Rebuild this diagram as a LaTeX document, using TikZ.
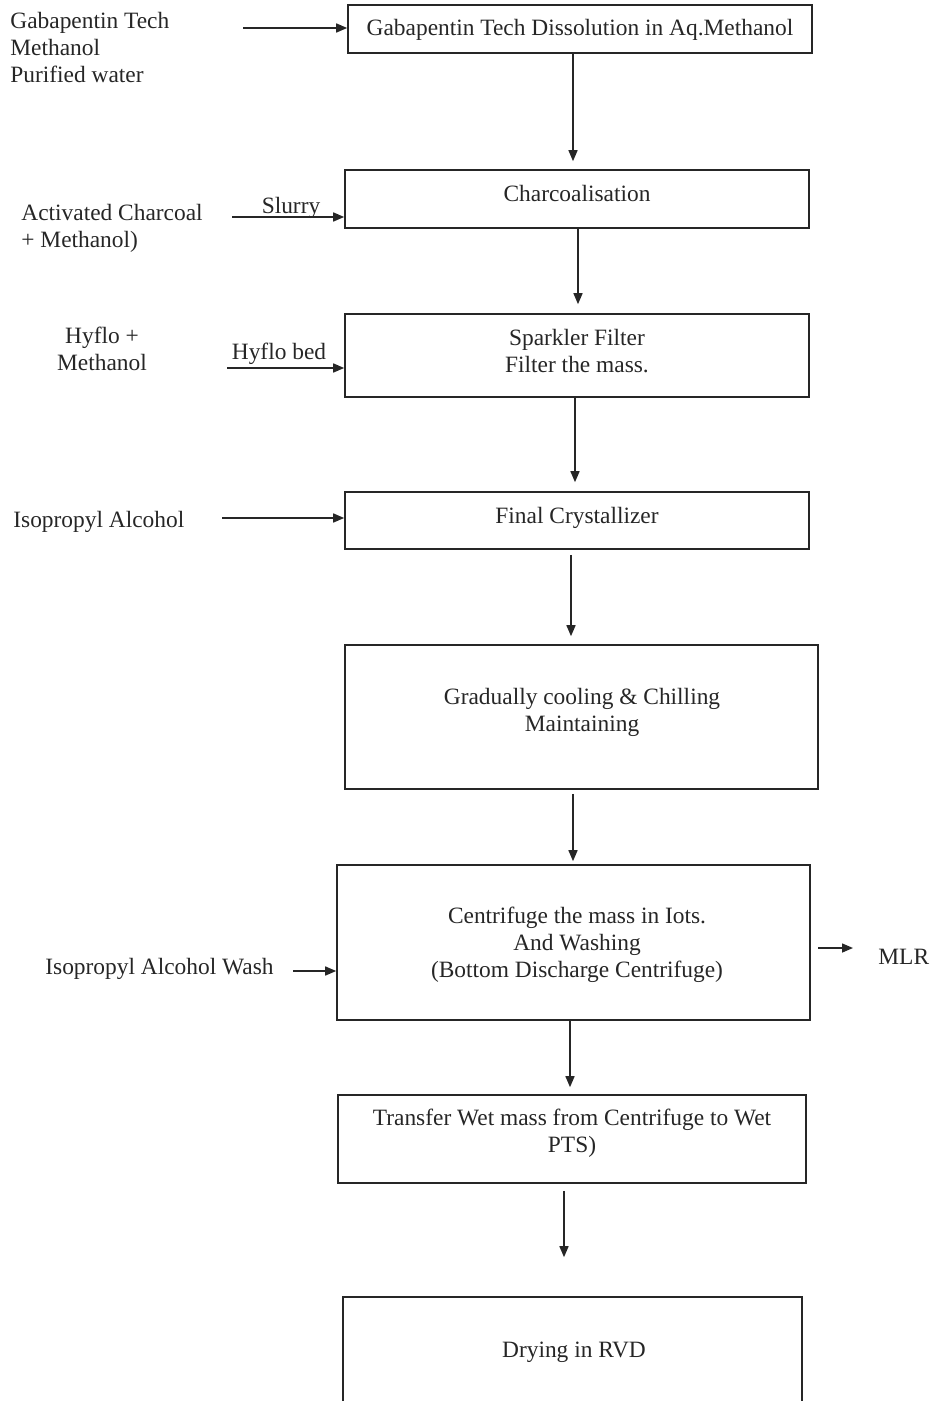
\documentclass[tikz,border=0pt]{standalone}
\usepackage{fontspec}
\setmainfont{Liberation Serif}
\usetikzlibrary{arrows.meta,fit,calc}
\begin{document}
\begin{tikzpicture}[x=0.5pt,y=-0.5pt,
  box/.style={draw=black!85, line width=0.8pt, inner sep=0pt},
  txt/.style={inner sep=0pt, text=black!85, font=\fontsize{11.7}{13.5}\selectfont, align=center, anchor=north},
  ltxt/.style={txt, align=left, anchor=north west},
  arr/.style={draw=black!85, line width=0.75pt, -{Triangle[length=5.5pt,width=4.5pt]}}]
\useasboundingbox (0,0) rectangle (932,1401);
\clip (0,0) rectangle (932,1401);
% process boxes
\node[box, fit={(348,5)(812,53)}] (b1) {};
\node[box, fit={(345,170)(809,228)}] (b2) {};
\node[box, fit={(345,314)(809,397)}] (b3) {};
\node[box, fit={(345,492)(809,549)}] (b4) {};
\node[box, fit={(345,645)(818,789)}] (b5) {};
\node[box, fit={(337,865)(810,1020)}] (b6) {};
\node[box, fit={(338,1095)(806,1183)}] (b7) {};
\node[box, fit={(343,1297)(802,1460)}] (b8) {};
% box texts
\node[txt] (t1) at (580,19) {Gabapentin Tech Dissolution in Aq.Methanol};
\node[txt] (t2) at (577,185) {Charcoalisation};
\node[txt] (t3) at (577,329) {Sparkler Filter\\Filter the mass.};
\node[txt] (t4) at (577,507) {Final Crystallizer};
\node[txt] (t5) at (582,688) {Gradually cooling \& Chilling\\Maintaining};
\node[txt] (t6) at (577,907) {Centrifuge the mass in Iots.\\And Washing\\(Bottom Discharge Centrifuge)};
\node[txt] (t7) at (572,1109) {Transfer Wet mass from Centrifuge to Wet\\PTS)};
\node[txt] (t8) at (574,1342) {Drying in RVD};
% input texts
\node[ltxt] (i1) at (10,12) {Gabapentin Tech\\Methanol\\Purified water};
\node[ltxt] (i2) at (21,204) {Activated Charcoal\\+ Methanol)};
\node[txt] (i3) at (102,327) {Hyflo +\\Methanol};
\node[ltxt] (i4) at (13,511) {Isopropyl Alcohol};
\node[ltxt] (i6) at (45,958) {Isopropyl Alcohol Wash};
\node[ltxt] (mlr) at (878,949) {MLR};
\node[txt] (l2) at (291,197) {Slurry};
\node[txt] (l3) at (279,343) {Hyflo bed};
% input arrows
\coordinate (s1) at (243,28);
\coordinate (s2) at (232,217);
\coordinate (s3) at (227,368);
\coordinate (s4) at (222,518);
\coordinate (s6) at (293,971);
\coordinate (m1) at (818,948);
\draw[arr] (s1) -- (s1 -| b1.west);
\draw[arr] (s2) -- (s2 -| b2.west);
\draw[arr] (s3) -- (s3 -| b3.west);
\draw[arr] (s4) -- (s4 -| b4.west);
\draw[arr] (s6) -- (s6 -| b6.west);
\draw[arr, shorten >=12.5pt] (m1) -- (m1 -| mlr.west);
% vertical arrow columns
\coordinate (v1) at (573,0);
\coordinate (v2) at (578,0);
\coordinate (v3) at (575,0);
\coordinate (v4) at (571,0);
\coordinate (v5) at (573,0);
\coordinate (v6) at (570,0);
\coordinate (v7) at (564,0);
\draw[arr] (b1.south -| v1) -- ($(b2.north -| v1)+(0,-8)$);
\draw[arr] (b2.south -| v2) -- ($(b3.north -| v2)+(0,-9)$);
\draw[arr] (b3.south -| v3) -- ($(b4.north -| v3)+(0,-9)$);
\draw[arr] ($(b4.south -| v4)+(0,5)$) -- ($(b5.north -| v4)+(0,-8)$);
\draw[arr] ($(b5.south -| v5)+(0,4)$) -- ($(b6.north -| v5)+(0,-3)$);
\draw[arr] (b6.south -| v6) -- ($(b7.north -| v6)+(0,-7)$);
\draw[arr] ($(b7.south -| v7)+(0,7)$) -- ($(b8.north -| v7)+(0,-39)$);
\end{tikzpicture}
\end{document}
